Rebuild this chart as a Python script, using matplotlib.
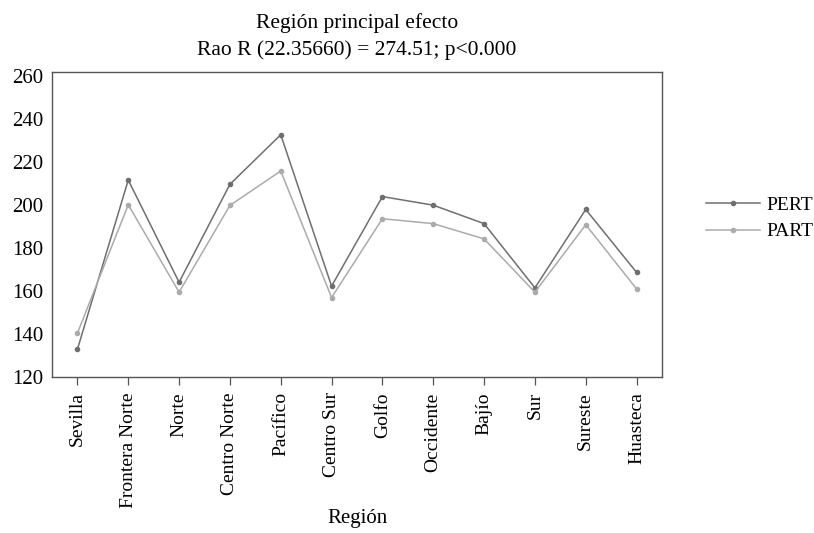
import matplotlib.pyplot as plt

plt.rcParams["font.family"] = ["Liberation Serif", "DejaVu Serif"]

regiones = [
    "Sevilla", "Frontera Norte", "Norte", "Centro Norte", "Pacífico",
    "Centro Sur", "Golfo", "Occidente", "Bajío", "Sur", "Sureste", "Huasteca",
]
pert = [132.9, 211.7, 164.1, 209.7, 232.8, 162.3, 204.0, 200.0, 191.4, 161.5, 198.0, 168.7]
part = [140.4, 200.2, 159.5, 199.9, 215.9, 157.0, 193.7, 191.4, 184.3, 159.5, 190.9, 161.0]

fig = plt.figure(figsize=(8.14, 5.33), dpi=100)
ax = fig.add_axes([52 / 814, 1 - 377 / 533, 610 / 814, 305 / 533])

x = range(len(regiones))
ax.plot(x, pert, color="#6f6f6f", lw=1.1, marker="o", ms=3, label="PERT")
ax.plot(x, part, color="#ababab", lw=1.1, marker="o", ms=3, label="PART")

ax.set_xlim(-0.5, len(regiones) - 0.5)
ax.set_ylim(120, 262)
ax.set_yticks(range(120, 261, 20))
ax.set_xticks(list(x))
ax.set_xticklabels(regiones, rotation=90, fontsize=14)
ax.tick_params(axis="y", length=0, labelsize=15, pad=6)
ax.tick_params(axis="x", length=6, width=0.9, color="#555555", pad=5)

for s in ax.spines.values():
    s.set_color("#555555")
    s.set_linewidth(1.0)

ax.set_xlabel("Región", fontsize=15, labelpad=1)
ax.set_title("Región principal efecto\nRao R (22.35660) = 274.51; p<0.000",
             fontsize=15.5, linespacing=1.5, pad=12)

ax.legend(loc="center left", bbox_to_anchor=(1.065, 0.52), frameon=False,
          fontsize=14, handlelength=2.8, handletextpad=0.35, labelspacing=0.45,
          borderaxespad=0, borderpad=0.2)

fig.savefig("out.png", dpi=100)
